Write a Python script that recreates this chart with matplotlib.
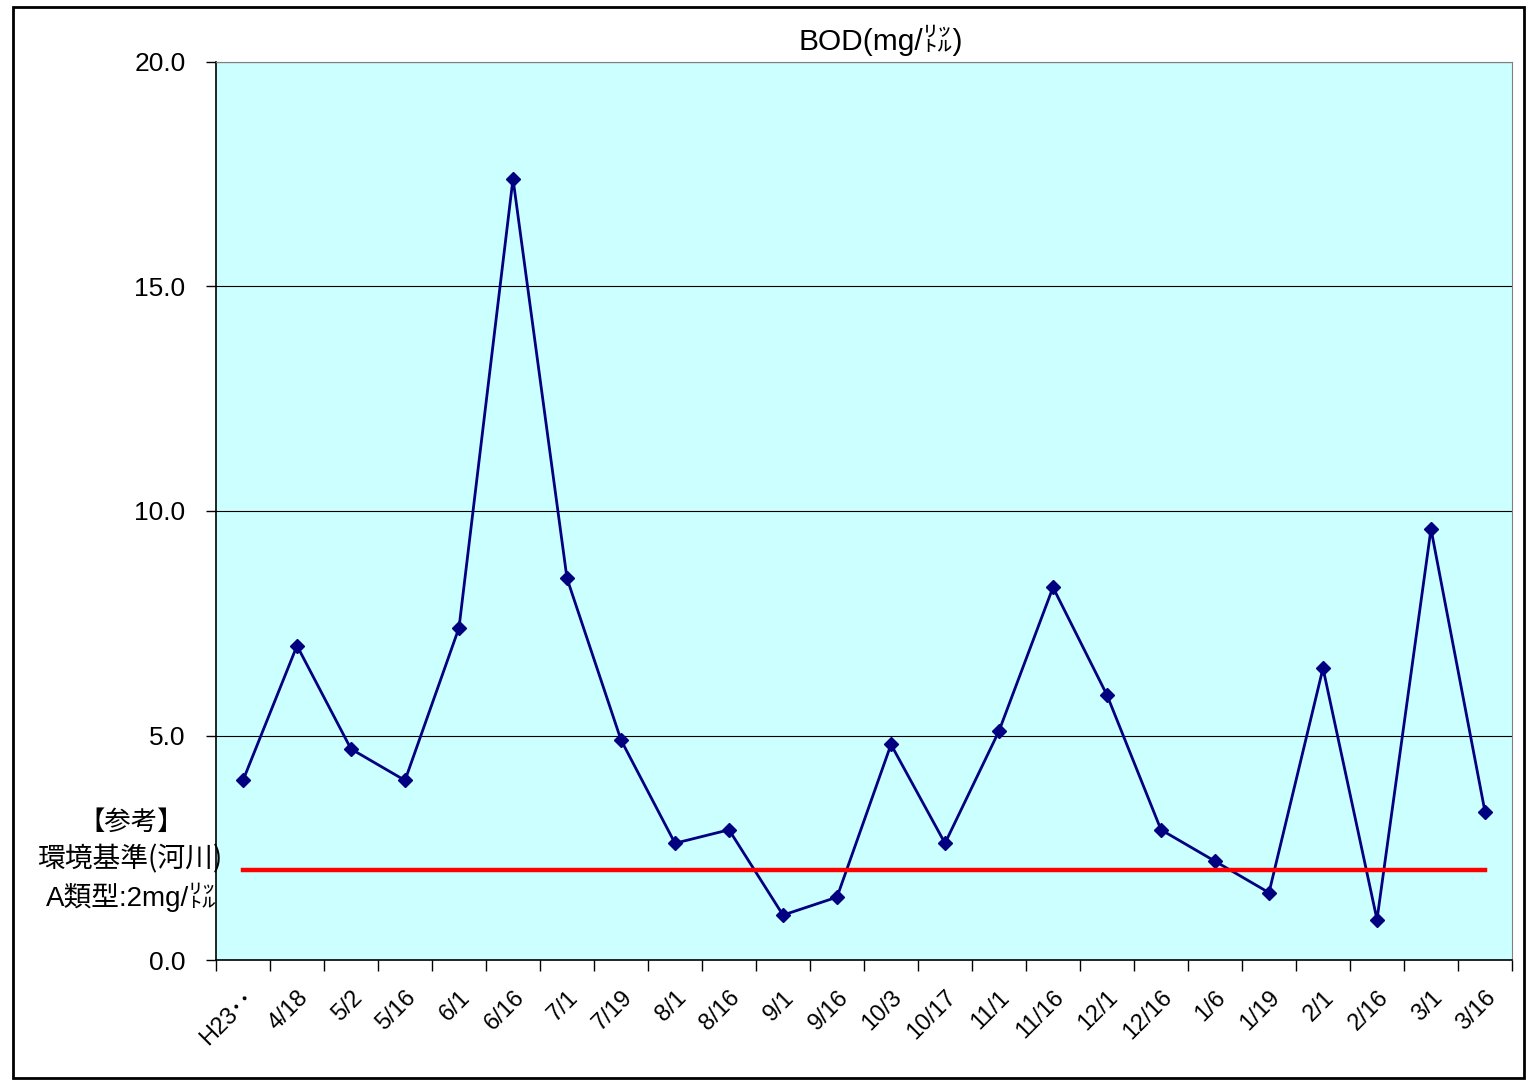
import numpy as np
import matplotlib.pyplot as plt
from matplotlib.patches import Rectangle

plt.rcParams['font.family'] = ['Liberation Sans', 'Noto Sans CJK JP']

dates = ["H23･･", "4/18", "5/2", "5/16", "6/1", "6/16", "7/1", "7/19", "8/1", "8/16",
         "9/1", "9/16", "10/3", "10/17", "11/1", "11/16", "12/1", "12/16", "1/6", "1/19",
         "2/1", "2/16", "3/1", "3/16"]
bod = [4.0, 7.0, 4.7, 4.0, 7.4, 17.4, 8.5, 4.9, 2.6, 2.9,
       1.0, 1.4, 4.8, 2.6, 5.1, 8.3, 5.9, 2.9, 2.2, 1.5,
       6.5, 0.9, 9.6, 3.3]
standard = 2.0

fig = plt.figure(figsize=(15.32, 10.8), dpi=100)
ax = fig.add_axes([216/1532, 1-960/1080, (1512-216)/1532, (960-62)/1080])
ax.set_facecolor("#CCFFFF")

x = np.arange(len(dates))
ax.plot(x, bod, color="#000080", lw=2, marker="D", ms=7, zorder=3)
ax.plot([x[0], x[-1]], [standard, standard], color="red", lw=3.2, zorder=4)

ax.set_xlim(-0.5, len(dates) - 0.5)
ax.set_ylim(0, 20)
ax.set_yticks([0, 5, 10, 15, 20])
ax.set_yticklabels(["0.0", "5.0", "10.0", "15.0", "20.0"], fontsize=19)
ax.yaxis.grid(True, color="black", lw=0.8)
ax.set_axisbelow(True)

ax.set_xticks(x)
ax.set_xticklabels(dates, rotation=45, ha="right", rotation_mode="anchor", fontsize=17)
ax.set_xticks(np.arange(-0.5, len(dates)), minor=True)
ax.tick_params(axis="x", which="major", length=0, pad=19)
ax.tick_params(axis="x", which="minor", length=8, width=1, direction="out")
ax.tick_params(axis="y", length=7, width=1, direction="out", pad=15)

for s in ["top", "right"]:
    ax.spines[s].set_color("#808080")
for s in ["left", "bottom"]:
    ax.spines[s].set_color("black")
    ax.spines[s].set_linewidth(1.2)

fig.text(881/1532, 1-40/1080, "BOD(mg/㍑)", fontsize=21.5, ha="center", va="center")

# reference annotation
cjk = ['Noto Sans CJK JP', 'DejaVu Sans']
fig.text(131/1532, 1-822/1080, "【参考】", fontsize=19, ha="center", va="center", family=cjk)
fig.text(130/1532, 1-859/1080, "環境基準(河川)", fontsize=20, ha="center", va="center", family=cjk)
fig.text(131/1532, 1-897/1080, "A類型:2mg/㍑", fontsize=20, ha="center", va="center")

fig.add_artist(Rectangle((13/1532, 2/1080), (1524-13)/1532, (1073-2)/1080,
                         transform=fig.transFigure, fill=False, edgecolor="black", lw=2))

fig.savefig("out.png", dpi=100)
